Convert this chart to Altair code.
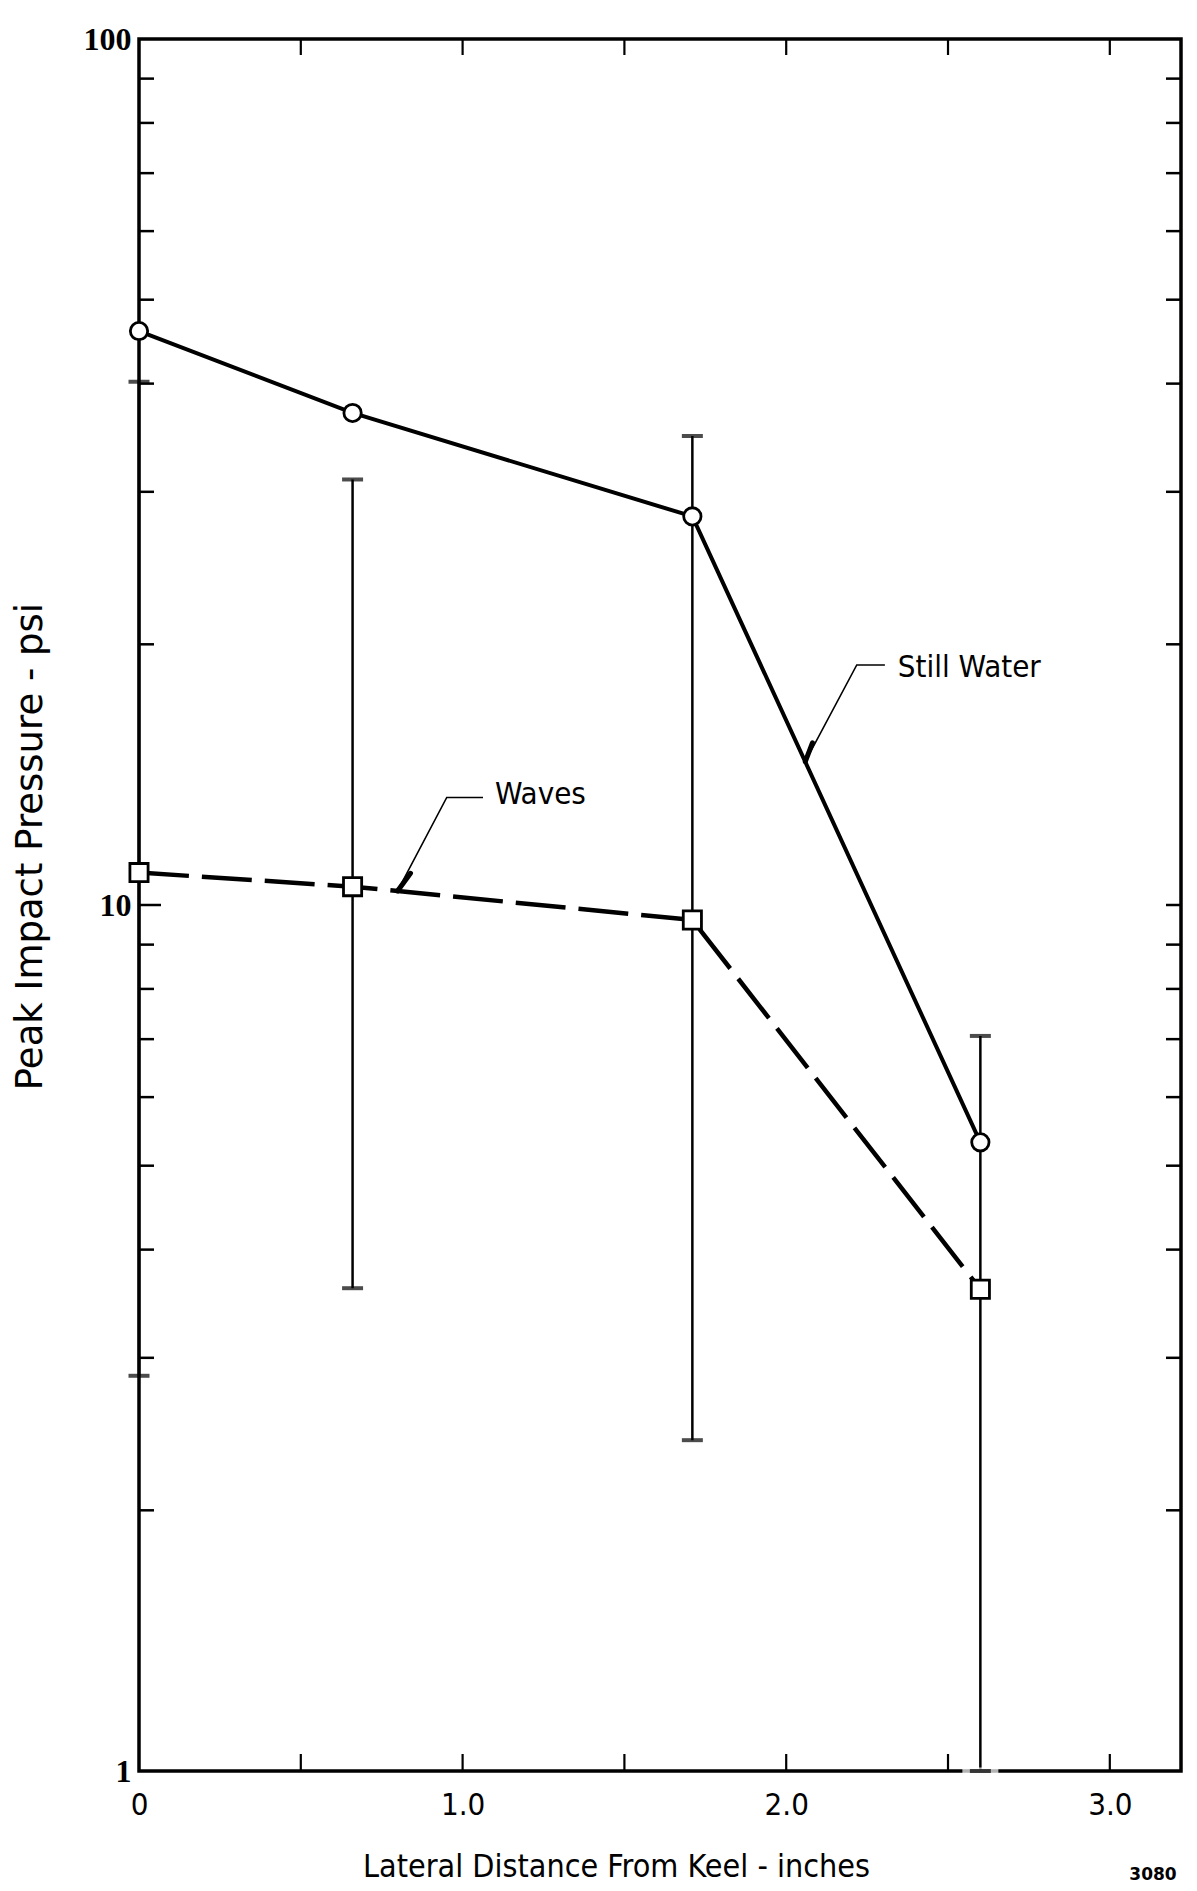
import altair as alt
import pandas as pd

# Measured points (lateral distance in inches, peak pressure in psi)
distance = [0.0, 0.66, 1.71, 2.60]
still_water = [46.0, 37.0, 28.1, 5.32]
waves = [10.9, 10.5, 9.61, 3.60]
waves_low = [2.86, 3.61, 2.41, 1.0]
waves_high = [40.2, 31.0, 34.8, 7.06]

# Axis ticks
x_label_values = [0, 1, 2, 3]
x_tick_values = [0.5, 1.0, 1.5, 2.0, 2.5, 3.0]
y_label_values = [1, 10, 100]
y_minor_ticks = [2, 3, 4, 5, 6, 7, 8, 9, 20, 30, 40, 50, 60, 70, 80, 90]
y_major_ticks = [10]

# Callout labels and their leader lines
label_text = ["Waves", "Still Water"]
label_x = [1.10, 2.345]
label_y = [13.38, 18.79]
leader_series = ["Waves", "Waves", "Waves", "Still Water", "Still Water", "Still Water"]
leader_x = [1.063, 0.951, 0.799, 2.305, 2.218, 2.059]
leader_y = [13.31, 13.31, 10.38, 18.93, 18.93, 14.64]
wedge_series = ["Waves", "Waves", "Still Water", "Still Water"]
wedge_x = [0.839, 0.799, 2.081, 2.059]
wedge_y = [10.88, 10.38, 15.39, 14.64]

W, H = 1042, 1732
COND = "DejaVu Sans Condensed, sans-serif"
SANS = "DejaVu Sans, sans-serif"
SERIF = "Liberation Serif, DejaVu Serif, serif"

pts = pd.DataFrame({
    "x": distance, "still": still_water, "waves": waves,
    "lo": waves_low, "hi": waves_high,
})

xs = alt.Scale(domain=[0, 3.22], nice=False, zero=False)
ys = alt.Scale(type="log", domain=[1, 100], nice=False)

x_axis = alt.Axis(
    values=x_label_values,
    labelExpr="datum.value == 0 ? '0' : format(datum.value, '.1f')",
    labelFlush=False,
    title="Lateral Distance From Keel - inches",
    titleX=477, titleY=95, titleBaseline="middle", titleAlign="center",
    titleFont=COND, titleFontSize=32, titleFontWeight="normal",
    labelFont=COND, labelFontSize=31, labelFontWeight="normal",
    labelPadding=34, labelBaseline="middle",
    domain=False, ticks=False, grid=False, labelColor="black", titleColor="black",
)
y_axis = alt.Axis(
    values=y_label_values, format="d",
    title="Peak Impact Pressure - psi",
    titleX=-109, titleY=807, titleAngle=270, titleBaseline="middle", titleAlign="center",
    titleFont=SANS, titleFontSize=37, titleFontWeight="normal",
    labelFont=SERIF, labelFontSize=32, labelFontWeight="bold", labelPadding=8,
    labelFlush=False,
    domain=False, ticks=False, grid=False, labelColor="black", titleColor="black",
)

base = alt.Chart(pts)

# Error bars for the wave runs
err = base.mark_rule(color="black", strokeWidth=2.5).encode(
    x=alt.X("x:Q", scale=xs, axis=x_axis),
    y=alt.Y("lo:Q", scale=ys, axis=y_axis),
    y2="hi:Q",
)
cap_gap = base.transform_filter("datum.lo <= 1").mark_tick(
    orient="horizontal", color="white", size=36, thickness=7
).encode(x=alt.X("x:Q", scale=xs), y=alt.Y("lo:Q", scale=ys))
cap_lo = base.mark_tick(orient="horizontal", color="black", size=21, thickness=4).encode(
    x=alt.X("x:Q", scale=xs), y=alt.Y("lo:Q", scale=ys))
cap_hi = base.mark_tick(orient="horizontal", color="black", size=21, thickness=4).encode(
    x=alt.X("x:Q", scale=xs), y=alt.Y("hi:Q", scale=ys))

still_line = base.mark_line(color="black", strokeWidth=4).encode(
    x=alt.X("x:Q", scale=xs), y=alt.Y("still:Q", scale=ys))
waves_line = base.mark_line(color="black", strokeWidth=4.5, strokeDash=[50, 13]).encode(
    x=alt.X("x:Q", scale=xs), y=alt.Y("waves:Q", scale=ys))

still_pts = base.mark_point(shape="circle", filled=True, fill="white", stroke="black",
                            strokeWidth=2.8, size=300, opacity=1).encode(
    x=alt.X("x:Q", scale=xs), y=alt.Y("still:Q", scale=ys))
waves_pts = base.mark_point(shape="square", filled=True, fill="white", stroke="black",
                            strokeWidth=2.8, size=330, opacity=1).encode(
    x=alt.X("x:Q", scale=xs), y=alt.Y("waves:Q", scale=ys))

# Callouts
leaders = alt.Chart(pd.DataFrame({"s": leader_series, "x": leader_x, "y": leader_y,
                                  "o": list(range(len(leader_x)))})).mark_line(
    color="black", strokeWidth=1.6).encode(
    x=alt.X("x:Q", scale=xs), y=alt.Y("y:Q", scale=ys), detail="s:N", order="o:Q")
wedges = alt.Chart(pd.DataFrame({"s": wedge_series, "x": wedge_x, "y": wedge_y,
                                 "o": list(range(len(wedge_x)))})).mark_line(
    color="black", strokeWidth=5, strokeCap="round").encode(
    x=alt.X("x:Q", scale=xs), y=alt.Y("y:Q", scale=ys), detail="s:N", order="o:Q")
labels = alt.Chart(pd.DataFrame({"t": label_text, "x": label_x, "y": label_y})).mark_text(
    align="left", baseline="middle", font=COND, fontSize=31, color="black").encode(
    x=alt.X("x:Q", scale=xs), y=alt.Y("y:Q", scale=ys), text="t:N")

# Inward-facing frame ticks
ytick_df = pd.DataFrame({"v": y_minor_ticks})
ymaj_df = pd.DataFrame({"v": y_major_ticks})
xtick_df = pd.DataFrame({"v": x_tick_values})
left_minor = alt.Chart(ytick_df).mark_rule(color="black", strokeWidth=2.5).encode(
    y=alt.Y("v:Q", scale=ys), x=alt.value(0), x2=alt.value(15))
left_major = alt.Chart(ymaj_df).mark_rule(color="black", strokeWidth=2.5).encode(
    y=alt.Y("v:Q", scale=ys), x=alt.value(0), x2=alt.value(22))
right_ticks = alt.Chart(pd.DataFrame({"v": y_minor_ticks + y_major_ticks})).mark_rule(
    color="black", strokeWidth=2.5).encode(
    y=alt.Y("v:Q", scale=ys), x=alt.value(W), x2=alt.value(W - 15))
top_ticks = alt.Chart(xtick_df).mark_rule(color="black", strokeWidth=2.2).encode(
    x=alt.X("v:Q", scale=xs), y=alt.value(0), y2=alt.value(16))
bottom_ticks = alt.Chart(xtick_df).mark_rule(color="black", strokeWidth=2.2).encode(
    x=alt.X("v:Q", scale=xs), y=alt.value(H), y2=alt.value(H - 17))

stamp = alt.Chart(pd.DataFrame({"t": ["3080"]})).mark_text(
    font="DejaVu Sans, sans-serif", fontSize=17, fontWeight="bold", color="black",
    align="center", baseline="middle").encode(
    text="t:N", x=alt.value(1014), y=alt.value(1836))

chart = alt.layer(
    left_minor, left_major, right_ticks, top_ticks, bottom_ticks,
    err, cap_gap, cap_lo, cap_hi,
    still_line, waves_line, leaders, wedges,
    still_pts, waves_pts, labels, stamp,
).properties(
    width=W, height=H,
    padding={"left": 139, "top": 39, "right": 16, "bottom": 120},
    autosize="none", background="white",
).configure_view(stroke="black", strokeWidth=3.5)

chart.save("out.html", embed_options={"renderer": "svg", "actions": False})
